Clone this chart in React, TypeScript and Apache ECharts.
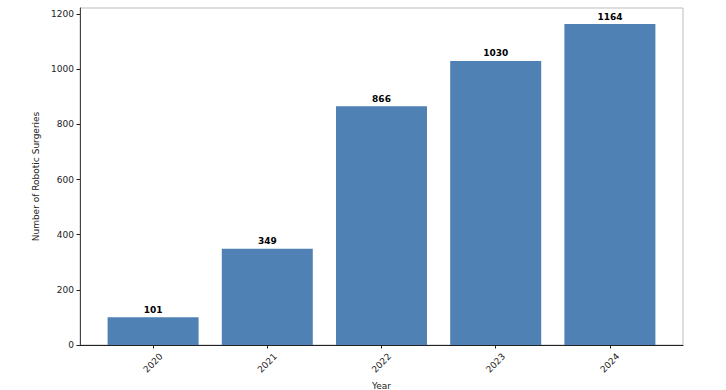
import React, { useEffect, useRef } from "react";
import * as echarts from "echarts";

const years = ["2020", "2021", "2022", "2023", "2024"];
const surgeries = [101, 349, 866, 1030, 1164];
const yTicks = [0, 200, 400, 600, 800, 1000, 1200];

export default function App() {
  const ref = useRef<HTMLDivElement>(null);
  useEffect(() => {
    document.body.style.margin = "0";
    const chart = echarts.init(ref.current!, null, { renderer: "svg" });
    const font = "DejaVu Sans";
    const idx = years.map((_, i) => i);
    chart.setOption({
      animation: false,
      backgroundColor: "#ffffff",
      textStyle: { fontFamily: font },
      grid: {
        left: 80,
        right: 43,
        top: 8,
        bottom: 45,
        outerBoundsMode: "none",
        containLabel: false,
        show: true,
        borderColor: "#bdbdbd",
        borderWidth: 1,
        backgroundColor: "transparent",
      },
      xAxis: {
        type: "value",
        min: -0.64,
        max: 4.64,
        name: "Year",
        nameLocation: "middle",
        nameGap: 33.5,
        nameTextStyle: { fontSize: 9, color: "#222", fontFamily: font },
        splitLine: { show: false },
        axisLine: { show: true, onZero: false, lineStyle: { color: "#222", width: 1 } },
        axisTick: {
          show: true,
          length: 3.5,
          customValues: idx,
          lineStyle: { color: "#222" },
        },
        axisLabel: {
          customValues: idx,
          rotate: 45,
          align: "center",
          verticalAlign: "middle",
          fontSize: 9,
          color: "#222",
          fontFamily: font,
          margin: 18,
          formatter: (v: number) => years[Math.round(v)] ?? "",
        },
      },
      yAxis: {
        type: "value",
        min: 0,
        max: 1222.2,
        name: "Number of Robotic Surgeries",
        nameLocation: "middle",
        nameGap: 32,
        nameTextStyle: { fontSize: 9, color: "#222", fontFamily: font },
        splitLine: { show: false },
        axisLine: { show: true, onZero: false, lineStyle: { color: "#444", width: 1 } },
        axisTick: {
          show: true,
          length: 3.5,
          customValues: yTicks,
          lineStyle: { color: "#222" },
        },
        axisLabel: {
          customValues: yTicks,
          fontSize: 9,
          color: "#222",
          fontFamily: font,
          margin: 6,
          formatter: (v: number) => String(v),
        },
      },
      series: [
        {
          type: "bar",
          data: surgeries.map((v, i) => [i, v]),
          barWidth: 91,
          itemStyle: { color: "#4f81b4" },
          label: {
            show: true,
            position: "top",
            distance: 3,
            fontSize: 9,
            fontWeight: "bold",
            color: "#000",
            fontFamily: font,
            formatter: (p: any) => String(p.value[1]),
          },
        },
      ],
    });
    return () => chart.dispose();
  }, []);
  return <div ref={ref} style={{ width: 726, height: 390 }} />;
}
